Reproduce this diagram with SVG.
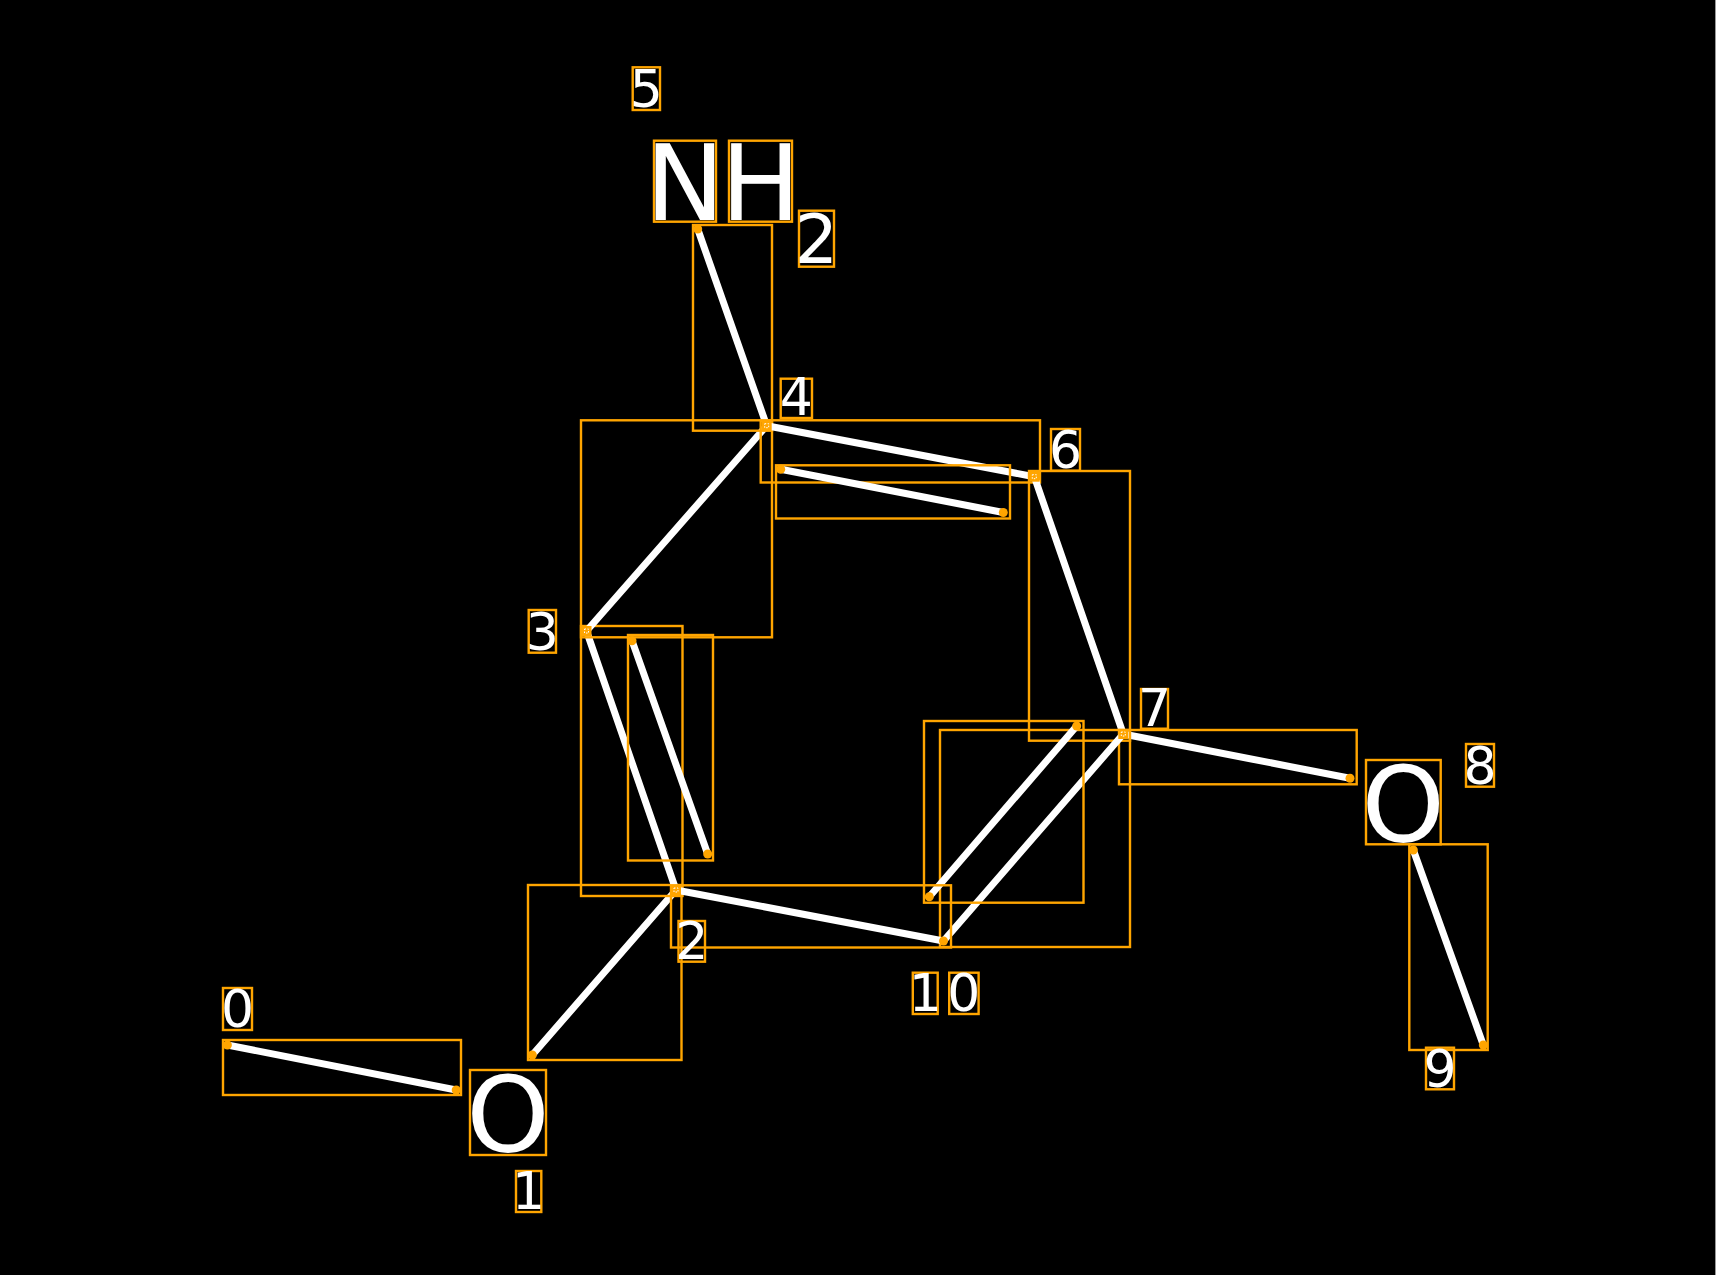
<svg xmlns="http://www.w3.org/2000/svg" width="1716" height="1275" viewBox="0 0 1716 1275">
<style>
.bg{fill:#000}
.box{fill:none;stroke:#FFA500;stroke-width:2.4}
.bond{stroke:#fff;stroke-width:7;stroke-linecap:round;fill:none}
.dot{fill:#FFA500}
.sq{fill:#FFA500}
.sqi{fill:none;stroke:#fff;stroke-width:1;stroke-dasharray:1.5 1.5}
.big{font-family:"DejaVu Sans","Liberation Sans",sans-serif;font-size:106px;fill:#fff;text-anchor:middle}
.sub{font-family:"DejaVu Sans","Liberation Sans",sans-serif;font-size:68px;fill:#fff;text-anchor:middle}
.idx{font-family:"DejaVu Sans","Liberation Sans",sans-serif;font-size:52px;fill:#fff;text-anchor:middle}
</style>
<rect class="bg" x="0" y="0" width="1716" height="1275"/>
<line x1="1715.5" y1="0" x2="1715.5" y2="1275" stroke="#999" stroke-width="1"/>

<g id="connectors">
  <g id="bond-0-1"><rect class="box" x="223" y="1040" width="238" height="55"/><line class="bond" x1="227.4" y1="1045" x2="456.2" y2="1090"/></g>
  <g id="bond-1-2"><rect class="box" x="528" y="885" width="153.5" height="175"/><line class="bond" x1="532.3" y1="1055" x2="676" y2="890"/></g>
  <g id="bond-2-3"><rect class="box" x="581" y="626" width="101.5" height="270"/><line class="bond" x1="676" y1="890" x2="586.5" y2="631"/></g>
  <g id="bond-2-3-inner"><rect class="box" x="628" y="635" width="85" height="225.5"/><line class="bond" x1="632" y1="640.7" x2="707.7" y2="854"/></g>
  <g id="bond-3-4"><rect class="box" x="581" y="420.3" width="191" height="217"/><line class="bond" x1="586.5" y1="631" x2="766.7" y2="425.7"/></g>
  <g id="bond-4-5"><rect class="box" x="693" y="225" width="79" height="205.7"/><line class="bond" x1="766.7" y1="425.7" x2="697.7" y2="229"/></g>
  <g id="bond-4-6"><rect class="box" x="760.7" y="420.3" width="279.3" height="62.2"/><line class="bond" x1="766.7" y1="425.7" x2="1034.3" y2="476.7"/></g>
  <g id="bond-4-6-inner"><rect class="box" x="776" y="465.3" width="234" height="53.2"/><line class="bond" x1="780.7" y1="469.3" x2="1003.3" y2="512.5"/></g>
  <g id="bond-6-7"><rect class="box" x="1029" y="471" width="101" height="269.7"/><line class="bond" x1="1034.3" y1="476.7" x2="1123.3" y2="734"/></g>
  <g id="bond-7-8"><rect class="box" x="1119" y="730" width="237.7" height="54.3"/><line class="bond" x1="1123.3" y1="734" x2="1350" y2="778.3"/></g>
  <g id="bond-8-9"><rect class="box" x="1409.3" y="844.3" width="78.4" height="205.7"/><line class="bond" x1="1413.3" y1="850" x2="1483.3" y2="1045"/></g>
  <g id="bond-7-10"><rect class="box" x="940" y="730" width="190" height="217"/><line class="bond" x1="1123.3" y1="734" x2="943.5" y2="941"/></g>
  <g id="bond-7-10-inner"><rect class="box" x="924" y="721" width="159.5" height="181.7"/><line class="bond" x1="1076.7" y1="726" x2="929.3" y2="896.7"/></g>
  <g id="bond-2-10"><rect class="box" x="671" y="885.3" width="280" height="62.2"/><line class="bond" x1="676" y1="890" x2="943.5" y2="941"/></g>
  <g id="endpoints">
    <circle class="dot" cx="227.4" cy="1045" r="4.5"/>
    <circle class="dot" cx="456.2" cy="1090" r="4.5"/>
    <circle class="dot" cx="532.3" cy="1055" r="4.5"/>
    <circle class="dot" cx="697.7" cy="229" r="4.5"/>
    <circle class="dot" cx="632" cy="640.7" r="4.5"/>
    <circle class="dot" cx="707.7" cy="854" r="4.5"/>
    <circle class="dot" cx="780.7" cy="469.3" r="4.5"/>
    <circle class="dot" cx="1003.3" cy="512.5" r="4.5"/>
    <circle class="dot" cx="1076.7" cy="726" r="4.5"/>
    <circle class="dot" cx="929.3" cy="896.7" r="4.5"/>
    <circle class="dot" cx="1350" cy="778.3" r="4.5"/>
    <circle class="dot" cx="1413.3" cy="850" r="4.5"/>
    <circle class="dot" cx="1483.3" cy="1045" r="4.5"/>
    <circle class="dot" cx="943.5" cy="941" r="4.5"/>
  </g>
</g>

<g id="atom-0"><rect class="box" x="223" y="988" width="29" height="42"/><text class="idx" x="237.5" y="1027">0</text></g>
<g id="atom-1"><rect class="box" x="470" y="1070" width="76" height="85"/><text class="big" x="508" y="1152">O</text><rect class="box" x="516" y="1171" width="25.3" height="41"/><text class="idx" x="528.6" y="1209">1</text></g>
<g id="atom-2"><rect class="sq" x="671" y="885" width="10" height="10"/><rect class="sqi" x="674" y="888" width="4" height="4"/><rect class="box" x="678.5" y="921" width="26.5" height="40.7"/><text class="idx" x="691.7" y="959">2</text></g>
<g id="atom-3"><rect class="sq" x="581.5" y="626" width="10" height="10"/><rect class="sqi" x="584.5" y="629" width="4" height="4"/><rect class="box" x="528.7" y="610" width="27.3" height="42.7"/><text class="idx" x="542.3" y="650">3</text></g>
<g id="atom-4"><rect class="sq" x="761.7" y="420.7" width="10" height="10"/><rect class="sqi" x="764.7" y="423.7" width="4" height="4"/><rect class="box" x="780.7" y="378.7" width="31.3" height="39.3"/><text class="idx" x="796.3" y="415">4</text></g>
<g id="atom-5"><rect class="box" x="654" y="140.7" width="62" height="81"/><text class="big" x="685" y="220">N</text><rect class="box" x="729" y="140.7" width="63" height="81"/><text class="big" x="760.5" y="220">H</text><rect class="box" x="799" y="210.7" width="35" height="56"/><text class="sub" x="816.5" y="263">2</text><rect class="box" x="632.7" y="67.3" width="27.3" height="42.7"/><text class="idx" x="646.3" y="107">5</text></g>
<g id="atom-6"><rect class="sq" x="1029.3" y="471.7" width="10" height="10"/><rect class="sqi" x="1032.3" y="474.7" width="4" height="4"/><rect class="box" x="1051" y="429" width="29" height="41.7"/><text class="idx" x="1065.5" y="468">6</text></g>
<g id="atom-7"><rect class="sq" x="1118.3" y="729" width="10" height="10"/><rect class="sqi" x="1121.3" y="732" width="4" height="4"/><rect class="box" x="1141" y="689" width="27" height="39.7"/><text class="idx" x="1154.5" y="726">7</text></g>
<g id="atom-8"><rect class="box" x="1366" y="760" width="74.7" height="84.3"/><text class="big" x="1403.3" y="842">O</text><rect class="box" x="1466" y="744" width="28" height="42.7"/><text class="idx" x="1480" y="784">8</text></g>
<g id="atom-9"><rect class="box" x="1426" y="1047.7" width="28" height="41.6"/><text class="idx" x="1440" y="1087">9</text></g>
<g id="atom-10"><rect class="box" x="912.8" y="972.7" width="24.9" height="41.3"/><text class="idx" x="925.2" y="1011">1</text><rect class="box" x="949.2" y="972.7" width="29.4" height="41.3"/><text class="idx" x="963.9" y="1011">0</text></g>
</svg>
